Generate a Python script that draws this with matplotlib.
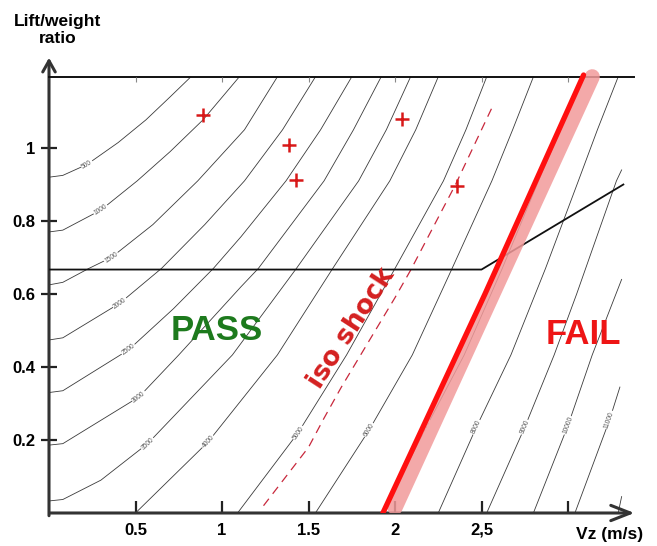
import matplotlib
matplotlib.use('Agg')
import matplotlib.pyplot as plt
import numpy as np

plt.rcParams['font.family'] = ['Liberation Sans', 'DejaVu Sans']

# iso-energy lines, points (Vz, lift/weight)
c500 = [(0, 0.92), (0.08, 0.925), (0.22, 0.955), (0.40, 1.015), (0.56, 1.077), (0.70, 1.14), (0.82, 1.195)]
c1000 = [(0, 0.77), (0.08, 0.775), (0.30, 0.83), (0.51, 0.91), (0.70, 0.99), (0.89, 1.077), (1.10, 1.195)]
c1500 = [(0, 0.625), (0.08, 0.632), (0.23, 0.67), (0.36, 0.70), (0.60, 0.79), (0.86, 0.91), (1.13, 1.05), (1.32, 1.195)]
c2000 = [(0, 0.474), (0.08, 0.48), (0.41, 0.575), (0.65, 0.67), (0.90, 0.79), (1.13, 0.91), (1.35, 1.05), (1.54, 1.195)]
c2500 = [(0, 0.33), (0.08, 0.335), (0.46, 0.447), (0.72, 0.56), (0.95, 0.67), (1.11, 0.757), (1.37, 0.91), (1.57, 1.05), (1.75, 1.195)]
c3000 = [(0, 0.186), (0.08, 0.19), (0.52, 0.318), (0.75, 0.433), (1.11, 0.62), (1.21, 0.67), (1.59, 0.91), (1.76, 1.05), (1.92, 1.195)]
c3500 = [(0, 0.033), (0.08, 0.037), (0.30, 0.09), (0.57, 0.19), (1.06, 0.433), (1.43, 0.67), (1.79, 0.91), (1.95, 1.05), (2.09, 1.195)]
c4000 = [(0.50, 0.0), (0.92, 0.195), (1.32, 0.433), (1.64, 0.67), (1.97, 0.91), (2.12, 1.05), (2.25, 1.195)]
c5000 = [(1.09, 0.0), (1.44, 0.22), (1.72, 0.433), (2.0, 0.67), (2.28, 0.91), (2.41, 1.05), (2.53, 1.195)]
c6000 = [(1.54, 0.0), (1.85, 0.227), (2.10, 0.433), (2.33, 0.67), (2.56, 0.91), (2.68, 1.05), (2.80, 1.195)]
c7000 = [(1.93, 0.0), (2.18, 0.235), (2.40, 0.433), (2.62, 0.67), (2.83, 0.91), (3.09, 1.195)]
c8000 = [(2.25, 0.0), (2.47, 0.235), (2.67, 0.433), (2.87, 0.67), (3.06, 0.91), (3.17, 1.05), (3.29, 1.195)]
c9000 = [(2.53, 0.0), (2.75, 0.235), (2.92, 0.433), (3.05, 0.60), (3.28, 0.91), (3.31, 0.94)]
c10000 = [(2.80, 0.0), (3.0, 0.24), (3.14, 0.433), (3.31, 0.64)]
c11000 = [(3.04, 0.0), (3.24, 0.255), (3.30, 0.345)]
c12000 = [(3.29, 0.0), (3.31, 0.045)]

levels = [500, 1000, 1500, 2000, 2500, 3000, 3500, 4000, 5000, 6000, 7000, 8000, 9000, 10000, 11000, 12000]
lines = [c500, c1000, c1500, c2000, c2500, c3000, c3500, c4000, c5000, c6000, c7000, c8000, c9000, c10000, c11000, c12000]
label_pts = [(0.22, 0.955), (0.30, 0.83), (0.36, 0.70), (0.41, 0.575), (0.46, 0.447), (0.52, 0.318), (0.57, 0.19),
             (0.92, 0.195), (1.44, 0.22), (1.85, 0.227), (2.18, 0.235), (2.47, 0.235), (2.75, 0.235), (3.0, 0.24),
             (3.24, 0.255), None]

# iso shock dashed curve
iso_vz = [1.24, 1.50, 1.59, 1.69, 2.0, 2.09, 2.35, 2.57]
iso_r = [0.02, 0.18, 0.26, 0.345, 0.59, 0.665, 0.90, 1.12]

# limit lines
lim_vz = [0, 2.5, 3.32]
lim_r = [0.667, 0.667, 0.90]
top_vz = [0, 3.38]
top_r = [1.195, 1.195]

# hand drawn red limit
red_vz = [1.93, 2.52, 3.09]
red_r = [0.0, 0.6, 1.2]
pink_vz = [2.0, 3.14]
pink_r = [0.015, 1.195]

# test points
pts_vz = [0.89, 1.39, 1.43, 2.04, 2.36]
pts_r = [1.09, 1.007, 0.913, 1.08, 0.897]

xticks = [0.5, 1, 1.5, 2, 2.5, 3]
xlabels = ['0.5', '1', '1.5', '2', '2,5', '']
yticks = [0.2, 0.4, 0.6, 0.8, 1]
ylabels = ['0.2', '0.4', '0.6', '0.8', '1']

fig = plt.figure(figsize=(6.57, 5.46), dpi=100)
ax = fig.add_axes([49/657, 33/546, 3.45*173/657, 1.27*365/546])
ax.set_xlim(0, 3.45)
ax.set_ylim(0, 1.27)
for s in ax.spines.values():
    s.set_visible(False)

for lev, pts, lp in zip(levels, lines, label_pts):
    vz = np.array([p[0] for p in pts])
    r = np.array([p[1] for p in pts])
    ax.plot(vz, r, color='#3a3a3a', lw=0.6, zorder=2)
    if lp is None:
        continue
    disp = ax.transData.transform(np.column_stack([vz, r]))
    i = int(np.argmin(np.hypot(vz - lp[0], r - lp[1])))
    i0, i1 = max(i-1, 0), min(i+1, len(vz)-1)
    ang = np.degrees(np.arctan2(disp[i1, 1]-disp[i0, 1], disp[i1, 0]-disp[i0, 0]))
    ax.text(lp[0], lp[1], str(lev), fontsize=4.8, color='#555555', rotation=ang,
            rotation_mode='anchor', ha='center', va='center', zorder=3,
            bbox=dict(fc='white', ec='none', pad=0.6))

ax.plot(iso_vz, iso_r, color='#c8283c', lw=0.9, dashes=(7, 5), zorder=4)
ax.plot(lim_vz, lim_r, color='#111111', lw=1.3, zorder=4)
ax.plot(top_vz, top_r, color='#111111', lw=1.4, zorder=4, clip_on=False)
ax.vlines(xticks, 1.182, 1.195, color='#888888', lw=0.8, zorder=4)

ax.plot(pink_vz, pink_r, color='#f29a9a', lw=11, solid_capstyle='round', alpha=0.85, zorder=5)
ax.plot(red_vz, red_r, color='#ff0f0f', lw=3.8, solid_capstyle='round', zorder=6)

ax.plot(pts_vz, pts_r, '+', color='#d81818', ms=10, mew=1.8, zorder=7)

# axes with arrows
ax.annotate('', xy=(0, 1.255), xytext=(0, -0.015),
            arrowprops=dict(arrowstyle='->,head_length=0.8,head_width=0.45', lw=2.2, color='#333333'),
            annotation_clip=False)
ax.annotate('', xy=(3.40, 0), xytext=(-0.01, 0),
            arrowprops=dict(arrowstyle='->,head_length=1.4,head_width=0.55', lw=2.2, color='#333333'),
            annotation_clip=False)

ax.set_xticks(xticks)
ax.set_xticklabels(xlabels, fontweight='bold', fontsize=12)
ax.set_yticks(yticks)
ax.set_yticklabels(ylabels, fontweight='bold', fontsize=12)
ax.tick_params(axis='x', direction='in', length=9, width=1.6, pad=7, color='#222222')
ax.tick_params(axis='y', direction='inout', length=12, width=1.6, pad=4, color='#222222')

ax.text(0.97, 0.50, 'PASS', color='#1d7a1d', fontsize=25, fontweight='bold', ha='center', va='center')
ax.text(3.09, 0.49, 'FAIL', color='#ee1515', fontsize=25, fontweight='bold', ha='center', va='center')
ax.text(1.75, 0.507, 'iso shock', color='#d42020', fontsize=19, fontweight='bold', family='DejaVu Sans',
        rotation=57, ha='center', va='center', zorder=8)

fig.text(58/657, 1-30/546, 'Lift/weight\nratio', fontsize=12.5, fontweight='bold', ha='center', va='center',
         linespacing=1.15)
fig.text(610/657, 1-535/546, 'Vz (m/s)', fontsize=12.5, fontweight='bold', ha='center', va='center')

plt.savefig('out.png', dpi=100)
